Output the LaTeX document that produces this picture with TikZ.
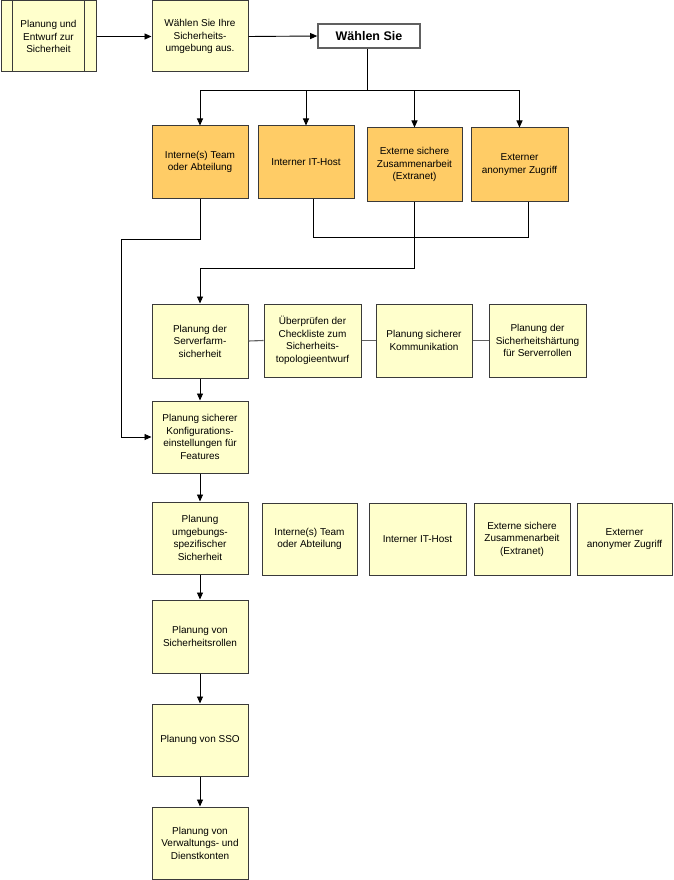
\documentclass[tikz,border=0pt]{standalone}
\usepackage{fontspec}
\setmainfont{Liberation Sans}
\usetikzlibrary{arrows.meta,calc}
\definecolor{boxyellow}{HTML}{FFFFCC}
\definecolor{boxorange}{HTML}{FFCC66}
\definecolor{boxborder}{HTML}{3A3A3A}
\definecolor{linegray}{HTML}{606060}
\begin{document}
\begin{tikzpicture}[x=1pt,y=-1pt,
  box/.style={draw=boxborder,line width=1pt,fill=boxyellow,align=center,inner sep=1pt,
    font=\fontsize{10}{12.5}\selectfont},
  obox/.style={box,fill=boxorange},
  conn/.style={draw=black,line width=0.9pt},
  gconn/.style={draw=linegray,line width=1.1pt},
  arr/.style={conn,-{Triangle[length=7pt,width=6pt]}}]
\useasboundingbox (0,0) rectangle (673,880);
% top row
\node[box,minimum width=95pt,minimum height=71pt] (b1) at (48.5,36.5) {Planung und\\Entwurf zur\\Sicherheit};
\draw[draw=boxborder,line width=1pt] ($(b1.north west)+(12,0)$) -- ($(b1.south west)+(12,0)$);
\draw[draw=boxborder,line width=1pt] ($(b1.north east)+(-12,0)$) -- ($(b1.south east)+(-12,0)$);
\node[box,minimum width=96pt,minimum height=71pt] (b2) at (200,36.5) {Wählen Sie Ihre\\Sicherheits-\\umgebung aus.};
\node[draw=linegray,line width=1.6pt,fill=white,minimum width=102pt,minimum height=24pt,
  font=\fontsize{12.5}{14}\selectfont\bfseries] (ws) at (369,36) {Wählen Sie};
% orange row
\node[obox,minimum width=96pt,minimum height=72pt] (oA) at (200,162) {Interne(s) Team\\oder Abteilung};
\node[obox,minimum width=96pt,minimum height=72pt] (oB) at (306,162) {Interner IT-Host};
\node[obox,minimum width=95pt,minimum height=73pt] (oC) at (414.5,164.5) {Externe sichere\\Zusammenarbeit\\(Extranet)};
\node[obox,minimum width=97pt,minimum height=73pt] (oD) at (519.5,164.5) {Externer\\anonymer Zugriff};
% middle row
\node[box,minimum width=96pt,minimum height=74pt] (m1) at (200,341) {Planung der\\Serverfarm-\\sicherheit};
\node[box,minimum width=97pt,minimum height=73pt] (m2) at (312.5,340.5) {Überprüfen der\\Checkliste zum\\Sicherheits-\\topologieentwurf};
\node[box,minimum width=96pt,minimum height=73pt] (m3) at (424,340.5) {Planung sicherer\\Kommunikation};
\node[box,minimum width=97pt,minimum height=73pt] (m4) at (537.5,340.5) {Planung der\\Sicherheitshärtung\\für Serverrollen};
\node[box,minimum width=96pt,minimum height=72pt] (kf) at (200,437) {Planung sicherer\\Konfigurations-\\einstellungen für\\Features};
% environment row
\node[box,minimum width=96pt,minimum height=72pt] (um) at (200,538) {Planung\\umgebungs-\\spezifischer\\Sicherheit};
\node[box,minimum width=95pt,minimum height=72pt] (r2) at (309.5,539) {Interne(s) Team\\oder Abteilung};
\node[box,minimum width=97pt,minimum height=72pt] (r3) at (417.5,539) {Interner IT-Host};
\node[box,minimum width=96pt,minimum height=72pt] (r4) at (522,539) {Externe sichere\\Zusammenarbeit\\(Extranet)};
\node[box,minimum width=95pt,minimum height=72pt] (r5) at (624.5,539) {Externer\\anonymer Zugriff};
% bottom column
\node[box,minimum width=96pt,minimum height=73pt] (ro) at (200,636.5) {Planung von\\Sicherheitsrollen};
\node[box,minimum width=96pt,minimum height=72pt] (ss) at (200,740) {Planung von SSO};
\node[box,minimum width=96pt,minimum height=72pt] (vw) at (200,843) {Planung von\\Verwaltungs- und\\Dienstkonten};
% connectors top
\draw[arr] (b1.east) -- (b2.west);
\draw[arr] (b2.east) -- (ws.west);
\coordinate (hub) at (367,90);
\draw[conn] (ws.south -| hub) -- (hub);
\draw[arr] (hub) -| (oA.north);
\draw[arr] (hub) -| (oB.north);
\draw[arr] (hub) -| (oC.north);
\draw[arr] (hub) -| (oD.north);
% from orange row
\coordinate (aL) at (121,239);
\draw[arr] (oA.south) |- (aL) |- (kf.west);
\coordinate (bdL) at (313,237);
\coordinate (bdR) at (528,237);
\draw[conn] (bdL |- oB.south) -- (bdL) -- (bdR) -- (bdR |- oD.south);
\coordinate (cK) at (200,268);
\draw[arr] (oC.south) |- (cK) -- (m1.north);
% middle row
\draw[gconn] (m1.east) -- (m2.west);
\draw[gconn] (m2.east) -- (m3.west);
\draw[gconn] (m3.east) -- (m4.west);
% column
\draw[arr] (m1.south) -- (kf.north);
\draw[arr] (kf.south) -- (um.north);
\draw[arr] (um.south) -- (ro.north);
\draw[arr] (ro.south) -- (ss.north);
\draw[arr] (ss.south) -- (vw.north);
\end{tikzpicture}
\end{document}
